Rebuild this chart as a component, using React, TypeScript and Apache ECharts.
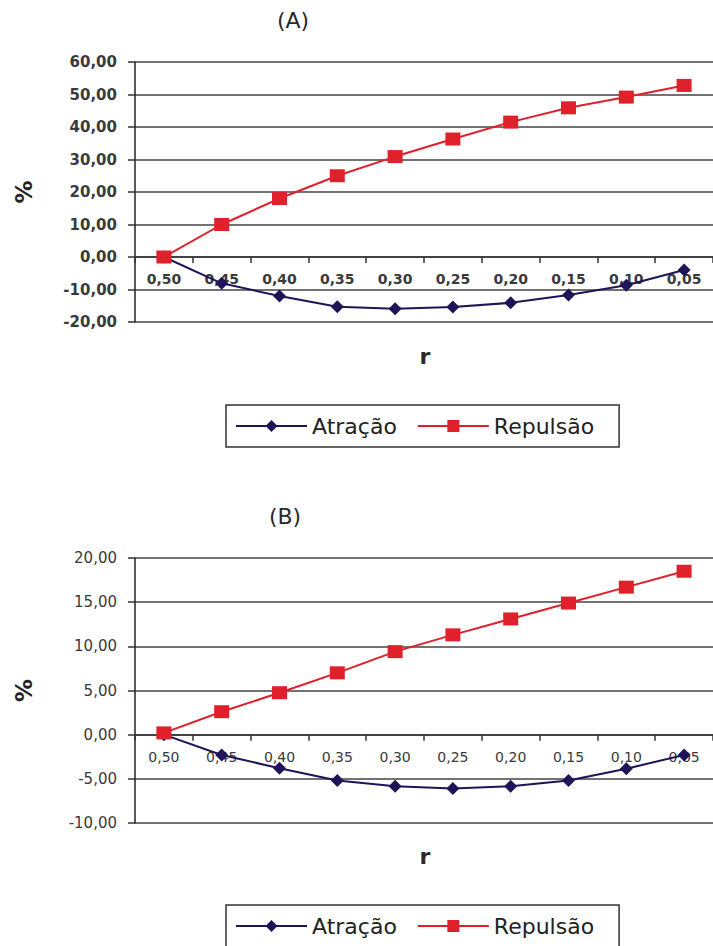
import React, { useEffect, useRef } from 'react';
import * as echarts from 'echarts';

const categories = ['0,50', '0,45', '0,40', '0,35', '0,30', '0,25', '0,20', '0,15', '0,10', '0,05'];
const atracaoA = [0, -8.1, -12.0, -15.3, -15.9, -15.4, -14.1, -11.7, -8.7, -4.0];
const repulsaoA = [0, 10.0, 18.0, 25.0, 30.9, 36.3, 41.5, 45.9, 49.2, 52.8];
const atracaoB = [0, -2.3, -3.8, -5.2, -5.85, -6.1, -5.85, -5.2, -3.85, -2.3];
const repulsaoB = [0.2, 2.6, 4.75, 7.0, 9.4, 11.3, 13.1, 14.9, 16.7, 18.5];
const seriesNames = ['Atração', 'Repulsão'];
const panelTitles = ['(A)', '(B)'];
const xName = 'r';
const yName = '%';
const rangeA = { min: -20, max: 60, interval: 10 };
const rangeB = { min: -10, max: 20, interval: 5 };

const FONT = 'DejaVu Sans';
const NAVY = '#1f1457';
const RED = '#e0202b';

const gridA = { left: 135, top: 62, width: 578, height: 260 };
const gridB = { left: 135, top: 558, width: 578, height: 265 };

const fmt = (v: number) => v.toFixed(2).replace('.', ',');

function makeY(gridIndex: number, r: { min: number; max: number; interval: number }, weight: string, size: number) {
  return {
    type: 'value',
    gridIndex,
    min: r.min,
    max: r.max,
    interval: r.interval,
    name: yName,
    nameLocation: 'middle',
    nameGap: 100,
    nameRotate: 90,
    nameTextStyle: { fontFamily: FONT, fontWeight: 'bold', fontSize: 23, color: '#222' },
    axisLine: { show: true, lineStyle: { color: '#222', width: 1.5 } },
    axisTick: { show: true, length: 7, lineStyle: { color: '#333', width: 1.5 } },
    axisLabel: { formatter: fmt, margin: 18, fontFamily: FONT, fontWeight: weight, fontSize: size, color: '#3a3a3a' },
    splitLine: { show: true, lineStyle: { color: '#444', width: 1.5 } },
  };
}

// x axis sits on the zero line of the value axis
function makeX(gridIndex: number, weight: string, grid: { height: number }, r: { min: number; max: number }) {
  const zeroFromBottom = (grid.height * (0 - r.min)) / (r.max - r.min);
  return {
    type: 'category',
    gridIndex,
    data: categories,
    boundaryGap: true,
    position: 'bottom',
    offset: -zeroFromBottom,
    axisLine: { show: true, onZero: false, lineStyle: { color: '#333', width: 1.5 } },
    axisTick: { show: true, length: 6, interval: 0, alignWithLabel: false, lineStyle: { color: '#333', width: 1.5 } },
    axisLabel: { interval: 0, margin: 15, fontFamily: FONT, fontWeight: weight, fontSize: 14, color: '#3a3a3a' },
    splitLine: { show: false },
  };
}

function makeSeries(idx: number, atr: number[], rep: number[]) {
  return [
    {
      name: seriesNames[0],
      type: 'line',
      xAxisIndex: idx,
      yAxisIndex: idx,
      data: atr,
      symbol: 'diamond',
      symbolSize: 13,
      showAllSymbol: true,
      itemStyle: { color: NAVY },
      lineStyle: { color: NAVY, width: 2 },
      z: 4,
    },
    {
      name: seriesNames[1],
      type: 'line',
      xAxisIndex: idx,
      yAxisIndex: idx,
      data: rep,
      symbol: 'rect',
      symbolSize: [15, 13],
      showAllSymbol: true,
      itemStyle: { color: RED },
      lineStyle: { color: RED, width: 2 },
      z: 5,
    },
  ];
}

function makeLegend(top: number) {
  return {
    top,
    left: 226,
    orient: 'horizontal',
    data: seriesNames,
    itemWidth: 71,
    itemHeight: 15,
    itemGap: 20,
    padding: [10, 25, 10, 9],
    borderColor: '#333',
    borderWidth: 1.5,
    selectedMode: false,
    textStyle: { fontFamily: FONT, fontSize: 22, color: '#222', lineHeight: 22 },
  };
}

function txt(text: string, x: number, y: number, size: number, weight: string) {
  return {
    type: 'text',
    x,
    y,
    style: {
      text,
      fontFamily: FONT,
      fontSize: size,
      fontWeight: weight,
      fill: '#2a2a2a',
      align: 'center',
      verticalAlign: 'middle',
    },
  };
}

export default function App() {
  const ref = useRef<HTMLDivElement>(null);
  useEffect(() => {
    if (!ref.current) return;
    const chart = echarts.init(ref.current, undefined, { renderer: 'svg' });
    chart.setOption({
      animation: false,
      backgroundColor: '#ffffff',
      grid: [
        { ...gridA, containLabel: false },
        { ...gridB, containLabel: false },
      ],
      xAxis: [makeX(0, 'bold', gridA, rangeA), makeX(1, 'normal', gridB, rangeB)],
      yAxis: [makeY(0, rangeA, 'bold', 15), makeY(1, rangeB, 'normal', 15)],
      legend: [makeLegend(405), makeLegend(905)],
      graphic: [
        txt(panelTitles[0], 293, 20, 22, 'normal'),
        txt(xName, 425, 356, 22, 'bold'),
        txt(panelTitles[1], 285, 516, 22, 'normal'),
        txt(xName, 425, 856, 22, 'bold'),
      ],
      series: [...makeSeries(0, atracaoA, repulsaoA), ...makeSeries(1, atracaoB, repulsaoB)],
    });
    return () => chart.dispose();
  }, []);
  return (
    <div
      ref={ref}
      style={{ position: 'absolute', left: 0, top: 0, width: 713, height: 946, background: '#fff' }}
    />
  );
}
